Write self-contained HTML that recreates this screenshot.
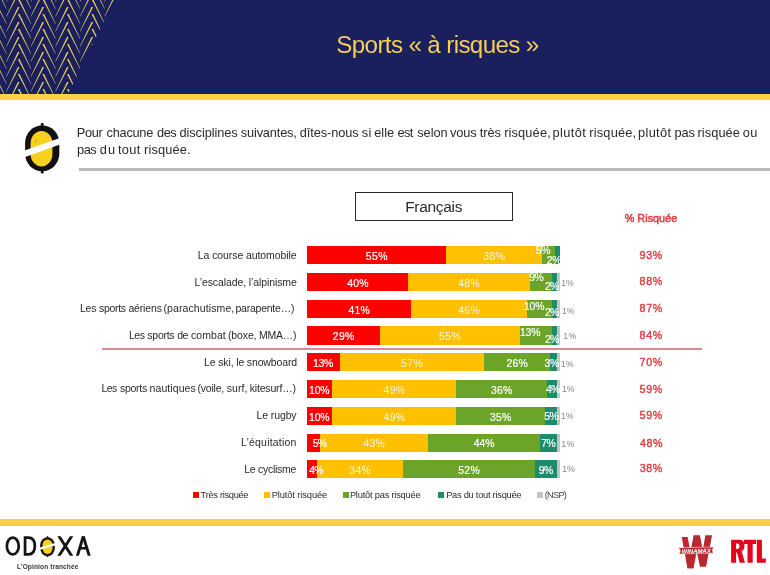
<!DOCTYPE html>
<html><head><meta charset="utf-8"><title>Sports à risques</title>
<style>
html,body{margin:0;padding:0;}
body{width:770px;height:575px;overflow:hidden;background:#fff;position:relative;font-family:"Liberation Sans",sans-serif;}
.abs{position:absolute;}
.t{position:absolute;white-space:nowrap;line-height:normal;}
#tx{position:absolute;left:0;top:0;width:770px;height:575px;will-change:transform;}
#hdr{left:0;top:0;width:770px;height:94px;background:#1a1f5e;}
#ystripe{left:0;top:93.6px;width:770px;height:6.3px;background:#f6d345;}
#qline{left:78.7px;top:168.3px;width:692px;height:2.4px;background:#bbb;}
#box{left:354.6px;top:192px;width:158.4px;height:29.3px;border:1.3px solid #2a2a2a;box-sizing:border-box;}
.seg{position:absolute;height:18.2px;}
#rline{left:102.1px;top:348px;width:600.2px;height:2px;background:#da8a94;}
.sq{position:absolute;top:491.8px;width:6.2px;height:6px;}
#fstripe{left:0;top:519px;width:770px;height:6.7px;background:#f7d046;}
svg{position:absolute;left:0;top:0;overflow:visible;}
</style></head><body>
<div class="abs" id="hdr"></div>

<svg width="770" height="94" viewBox="0 0 770 94"><defs><clipPath id="hc"><polygon points="0,0 114.5,0 68,94 0,94"/></clipPath></defs><g clip-path="url(#hc)"><path d="M-6.70 -38.10L-5.00 -38.10L-17.93 -13.50L-18.38 -13.50ZM-6.70 -30.90L-5.00 -30.90L6.67 -6.30L6.22 -6.30ZM-6.70 -23.10L-5.00 -23.10L-17.93 1.50L-18.38 1.50ZM-6.70 -15.90L-5.00 -15.90L6.67 8.70L6.22 8.70ZM-6.70 -8.10L-5.00 -8.10L-17.93 16.50L-18.38 16.50ZM-6.70 -0.90L-5.00 -0.90L6.67 23.70L6.22 23.70ZM-6.70 6.90L-5.00 6.90L-17.93 31.50L-18.38 31.50ZM-6.70 14.10L-5.00 14.10L6.67 38.70L6.22 38.70ZM-6.70 21.90L-5.00 21.90L-17.93 46.50L-18.38 46.50ZM-6.70 29.10L-5.00 29.10L6.67 53.70L6.22 53.70ZM-6.70 36.90L-5.00 36.90L-17.93 61.50L-18.38 61.50ZM-6.70 44.10L-5.00 44.10L6.67 68.70L6.22 68.70ZM-6.70 51.90L-5.00 51.90L-17.93 76.50L-18.38 76.50ZM-6.70 59.10L-5.00 59.10L6.67 83.70L6.22 83.70ZM-6.70 66.90L-5.00 66.90L-17.93 91.50L-18.38 91.50ZM-6.70 74.10L-5.00 74.10L6.67 98.70L6.22 98.70ZM-6.70 81.90L-5.00 81.90L-17.93 106.50L-18.38 106.50ZM-6.70 89.10L-5.00 89.10L6.67 113.70L6.22 113.70ZM-6.70 96.90L-5.00 96.90L-17.93 121.50L-18.38 121.50ZM-6.70 104.10L-5.00 104.10L6.67 128.70L6.22 128.70ZM-6.70 111.90L-5.00 111.90L-17.93 136.50L-18.38 136.50ZM-6.70 119.10L-5.00 119.10L6.67 143.70L6.22 143.70ZM17.85 -38.10L19.55 -38.10L6.62 -13.50L6.17 -13.50ZM17.85 -30.90L19.55 -30.90L31.23 -6.30L30.77 -6.30ZM17.85 -23.10L19.55 -23.10L6.62 1.50L6.17 1.50ZM17.85 -15.90L19.55 -15.90L31.23 8.70L30.77 8.70ZM17.85 -8.10L19.55 -8.10L6.62 16.50L6.17 16.50ZM17.85 -0.90L19.55 -0.90L31.23 23.70L30.77 23.70ZM17.85 6.90L19.55 6.90L6.62 31.50L6.17 31.50ZM17.85 14.10L19.55 14.10L31.23 38.70L30.77 38.70ZM17.85 21.90L19.55 21.90L6.62 46.50L6.17 46.50ZM17.85 29.10L19.55 29.10L31.23 53.70L30.77 53.70ZM17.85 36.90L19.55 36.90L6.62 61.50L6.17 61.50ZM17.85 44.10L19.55 44.10L31.23 68.70L30.77 68.70ZM17.85 51.90L19.55 51.90L6.62 76.50L6.17 76.50ZM17.85 59.10L19.55 59.10L31.23 83.70L30.77 83.70ZM17.85 66.90L19.55 66.90L6.62 91.50L6.17 91.50ZM17.85 74.10L19.55 74.10L31.23 98.70L30.77 98.70ZM17.85 81.90L19.55 81.90L6.62 106.50L6.17 106.50ZM17.85 89.10L19.55 89.10L31.23 113.70L30.77 113.70ZM17.85 96.90L19.55 96.90L6.62 121.50L6.17 121.50ZM17.85 104.10L19.55 104.10L31.23 128.70L30.77 128.70ZM17.85 111.90L19.55 111.90L6.62 136.50L6.17 136.50ZM17.85 119.10L19.55 119.10L31.23 143.70L30.77 143.70ZM42.40 -38.10L44.10 -38.10L31.18 -13.50L30.72 -13.50ZM42.40 -30.90L44.10 -30.90L55.77 -6.30L55.32 -6.30ZM42.40 -23.10L44.10 -23.10L31.18 1.50L30.72 1.50ZM42.40 -15.90L44.10 -15.90L55.77 8.70L55.32 8.70ZM42.40 -8.10L44.10 -8.10L31.18 16.50L30.72 16.50ZM42.40 -0.90L44.10 -0.90L55.77 23.70L55.32 23.70ZM42.40 6.90L44.10 6.90L31.18 31.50L30.72 31.50ZM42.40 14.10L44.10 14.10L55.77 38.70L55.32 38.70ZM42.40 21.90L44.10 21.90L31.18 46.50L30.72 46.50ZM42.40 29.10L44.10 29.10L55.77 53.70L55.32 53.70ZM42.40 36.90L44.10 36.90L31.18 61.50L30.72 61.50ZM42.40 44.10L44.10 44.10L55.77 68.70L55.32 68.70ZM42.40 51.90L44.10 51.90L31.18 76.50L30.72 76.50ZM42.40 59.10L44.10 59.10L55.77 83.70L55.32 83.70ZM42.40 66.90L44.10 66.90L31.18 91.50L30.72 91.50ZM42.40 74.10L44.10 74.10L55.77 98.70L55.32 98.70ZM42.40 81.90L44.10 81.90L31.18 106.50L30.72 106.50ZM42.40 89.10L44.10 89.10L55.77 113.70L55.32 113.70ZM42.40 96.90L44.10 96.90L31.18 121.50L30.72 121.50ZM42.40 104.10L44.10 104.10L55.77 128.70L55.32 128.70ZM42.40 111.90L44.10 111.90L31.18 136.50L30.72 136.50ZM42.40 119.10L44.10 119.10L55.77 143.70L55.32 143.70ZM66.95 -38.10L68.65 -38.10L55.73 -13.50L55.27 -13.50ZM66.95 -30.90L68.65 -30.90L80.32 -6.30L79.88 -6.30ZM66.95 -23.10L68.65 -23.10L55.73 1.50L55.27 1.50ZM66.95 -15.90L68.65 -15.90L80.32 8.70L79.88 8.70ZM66.95 -8.10L68.65 -8.10L55.73 16.50L55.27 16.50ZM66.95 -0.90L68.65 -0.90L80.32 23.70L79.88 23.70ZM66.95 6.90L68.65 6.90L55.73 31.50L55.27 31.50ZM66.95 14.10L68.65 14.10L80.32 38.70L79.88 38.70ZM66.95 21.90L68.65 21.90L55.73 46.50L55.27 46.50ZM66.95 29.10L68.65 29.10L80.32 53.70L79.88 53.70ZM66.95 36.90L68.65 36.90L55.73 61.50L55.27 61.50ZM66.95 44.10L68.65 44.10L80.32 68.70L79.88 68.70ZM66.95 51.90L68.65 51.90L55.73 76.50L55.27 76.50ZM66.95 59.10L68.65 59.10L80.32 83.70L79.88 83.70ZM66.95 66.90L68.65 66.90L55.73 91.50L55.27 91.50ZM66.95 74.10L68.65 74.10L80.32 98.70L79.88 98.70ZM66.95 81.90L68.65 81.90L55.73 106.50L55.27 106.50ZM66.95 89.10L68.65 89.10L80.32 113.70L79.88 113.70ZM66.95 96.90L68.65 96.90L55.73 121.50L55.27 121.50ZM66.95 104.10L68.65 104.10L80.32 128.70L79.88 128.70ZM66.95 111.90L68.65 111.90L55.73 136.50L55.27 136.50ZM66.95 119.10L68.65 119.10L80.32 143.70L79.88 143.70ZM91.50 -38.10L93.20 -38.10L80.28 -13.50L79.83 -13.50ZM91.50 -30.90L93.20 -30.90L104.88 -6.30L104.43 -6.30ZM91.50 -23.10L93.20 -23.10L80.28 1.50L79.83 1.50ZM91.50 -15.90L93.20 -15.90L104.88 8.70L104.43 8.70ZM91.50 -8.10L93.20 -8.10L80.28 16.50L79.83 16.50ZM91.50 -0.90L93.20 -0.90L104.88 23.70L104.43 23.70ZM91.50 6.90L93.20 6.90L80.28 31.50L79.83 31.50ZM91.50 14.10L93.20 14.10L104.88 38.70L104.43 38.70ZM91.50 21.90L93.20 21.90L80.28 46.50L79.83 46.50ZM91.50 29.10L93.20 29.10L104.88 53.70L104.43 53.70ZM91.50 36.90L93.20 36.90L80.28 61.50L79.83 61.50ZM91.50 44.10L93.20 44.10L104.88 68.70L104.43 68.70ZM91.50 51.90L93.20 51.90L80.28 76.50L79.83 76.50ZM91.50 59.10L93.20 59.10L104.88 83.70L104.43 83.70ZM91.50 66.90L93.20 66.90L80.28 91.50L79.83 91.50ZM91.50 74.10L93.20 74.10L104.88 98.70L104.43 98.70ZM91.50 81.90L93.20 81.90L80.28 106.50L79.83 106.50ZM91.50 89.10L93.20 89.10L104.88 113.70L104.43 113.70ZM91.50 96.90L93.20 96.90L80.28 121.50L79.83 121.50ZM91.50 104.10L93.20 104.10L104.88 128.70L104.43 128.70ZM91.50 111.90L93.20 111.90L80.28 136.50L79.83 136.50ZM91.50 119.10L93.20 119.10L104.88 143.70L104.43 143.70ZM116.05 -38.10L117.75 -38.10L104.83 -13.50L104.38 -13.50ZM116.05 -30.90L117.75 -30.90L129.43 -6.30L128.98 -6.30ZM116.05 -23.10L117.75 -23.10L104.83 1.50L104.38 1.50ZM116.05 -15.90L117.75 -15.90L129.43 8.70L128.98 8.70ZM116.05 -8.10L117.75 -8.10L104.83 16.50L104.38 16.50ZM116.05 -0.90L117.75 -0.90L129.43 23.70L128.98 23.70ZM116.05 6.90L117.75 6.90L104.83 31.50L104.38 31.50ZM116.05 14.10L117.75 14.10L129.43 38.70L128.98 38.70ZM116.05 21.90L117.75 21.90L104.83 46.50L104.38 46.50ZM116.05 29.10L117.75 29.10L129.43 53.70L128.98 53.70ZM116.05 36.90L117.75 36.90L104.83 61.50L104.38 61.50ZM116.05 44.10L117.75 44.10L129.43 68.70L128.98 68.70ZM116.05 51.90L117.75 51.90L104.83 76.50L104.38 76.50ZM116.05 59.10L117.75 59.10L129.43 83.70L128.98 83.70ZM116.05 66.90L117.75 66.90L104.83 91.50L104.38 91.50ZM116.05 74.10L117.75 74.10L129.43 98.70L128.98 98.70ZM116.05 81.90L117.75 81.90L104.83 106.50L104.38 106.50ZM116.05 89.10L117.75 89.10L129.43 113.70L128.98 113.70ZM116.05 96.90L117.75 96.90L104.83 121.50L104.38 121.50ZM116.05 104.10L117.75 104.10L129.43 128.70L128.98 128.70ZM116.05 111.90L117.75 111.90L104.83 136.50L104.38 136.50ZM116.05 119.10L117.75 119.10L129.43 143.70L128.98 143.70ZM140.60 -38.10L142.30 -38.10L129.37 -13.50L128.92 -13.50ZM140.60 -30.90L142.30 -30.90L153.97 -6.30L153.53 -6.30ZM140.60 -23.10L142.30 -23.10L129.37 1.50L128.92 1.50ZM140.60 -15.90L142.30 -15.90L153.97 8.70L153.53 8.70ZM140.60 -8.10L142.30 -8.10L129.37 16.50L128.92 16.50ZM140.60 -0.90L142.30 -0.90L153.97 23.70L153.53 23.70ZM140.60 6.90L142.30 6.90L129.37 31.50L128.92 31.50ZM140.60 14.10L142.30 14.10L153.97 38.70L153.53 38.70ZM140.60 21.90L142.30 21.90L129.37 46.50L128.92 46.50ZM140.60 29.10L142.30 29.10L153.97 53.70L153.53 53.70ZM140.60 36.90L142.30 36.90L129.37 61.50L128.92 61.50ZM140.60 44.10L142.30 44.10L153.97 68.70L153.53 68.70ZM140.60 51.90L142.30 51.90L129.37 76.50L128.92 76.50ZM140.60 59.10L142.30 59.10L153.97 83.70L153.53 83.70ZM140.60 66.90L142.30 66.90L129.37 91.50L128.92 91.50ZM140.60 74.10L142.30 74.10L153.97 98.70L153.53 98.70ZM140.60 81.90L142.30 81.90L129.37 106.50L128.92 106.50ZM140.60 89.10L142.30 89.10L153.97 113.70L153.53 113.70ZM140.60 96.90L142.30 96.90L129.37 121.50L128.92 121.50ZM140.60 104.10L142.30 104.10L153.97 128.70L153.53 128.70ZM140.60 111.90L142.30 111.90L129.37 136.50L128.92 136.50ZM140.60 119.10L142.30 119.10L153.97 143.70L153.53 143.70ZM165.15 -38.10L166.85 -38.10L153.92 -13.50L153.47 -13.50ZM165.15 -30.90L166.85 -30.90L178.53 -6.30L178.08 -6.30ZM165.15 -23.10L166.85 -23.10L153.92 1.50L153.47 1.50ZM165.15 -15.90L166.85 -15.90L178.53 8.70L178.08 8.70ZM165.15 -8.10L166.85 -8.10L153.92 16.50L153.47 16.50ZM165.15 -0.90L166.85 -0.90L178.53 23.70L178.08 23.70ZM165.15 6.90L166.85 6.90L153.92 31.50L153.47 31.50ZM165.15 14.10L166.85 14.10L178.53 38.70L178.08 38.70ZM165.15 21.90L166.85 21.90L153.92 46.50L153.47 46.50ZM165.15 29.10L166.85 29.10L178.53 53.70L178.08 53.70ZM165.15 36.90L166.85 36.90L153.92 61.50L153.47 61.50ZM165.15 44.10L166.85 44.10L178.53 68.70L178.08 68.70ZM165.15 51.90L166.85 51.90L153.92 76.50L153.47 76.50ZM165.15 59.10L166.85 59.10L178.53 83.70L178.08 83.70ZM165.15 66.90L166.85 66.90L153.92 91.50L153.47 91.50ZM165.15 74.10L166.85 74.10L178.53 98.70L178.08 98.70ZM165.15 81.90L166.85 81.90L153.92 106.50L153.47 106.50ZM165.15 89.10L166.85 89.10L178.53 113.70L178.08 113.70ZM165.15 96.90L166.85 96.90L153.92 121.50L153.47 121.50ZM165.15 104.10L166.85 104.10L178.53 128.70L178.08 128.70ZM165.15 111.90L166.85 111.90L153.92 136.50L153.47 136.50ZM165.15 119.10L166.85 119.10L178.53 143.70L178.08 143.70Z" fill="#eccb5c"/></g></svg>
<div class="abs" id="ystripe"></div>
<div class="abs" id="qline"></div>
<div class="abs" id="box"></div>
<div class="abs" id="rline"></div>

<div class="seg" style="left:307.00px;top:245.9px;width:139.55px;background:#ff0000"></div>
<div class="seg" style="left:446.15px;top:245.9px;width:96.54px;background:#ffc000"></div>
<div class="seg" style="left:542.29px;top:245.9px;width:13.05px;background:#6ba428"></div>
<div class="seg" style="left:554.94px;top:245.9px;width:5.06px;background:#208a6c"></div>
<div class="seg" style="left:307.00px;top:273.0px;width:101.60px;background:#ff0000"></div>
<div class="seg" style="left:408.20px;top:273.0px;width:121.84px;background:#ffc000"></div>
<div class="seg" style="left:529.64px;top:273.0px;width:23.17px;background:#6ba428"></div>
<div class="seg" style="left:552.41px;top:273.0px;width:5.46px;background:#208a6c"></div>
<div class="seg" style="left:557.47px;top:273.0px;width:2.53px;background:#c4c4c4"></div>
<div class="seg" style="left:307.00px;top:300.1px;width:104.13px;background:#ff0000"></div>
<div class="seg" style="left:410.73px;top:300.1px;width:116.78px;background:#ffc000"></div>
<div class="seg" style="left:527.11px;top:300.1px;width:25.70px;background:#6ba428"></div>
<div class="seg" style="left:552.41px;top:300.1px;width:5.46px;background:#208a6c"></div>
<div class="seg" style="left:557.47px;top:300.1px;width:2.53px;background:#c4c4c4"></div>
<div class="seg" style="left:307.00px;top:326.4px;width:73.77px;background:#ff0000"></div>
<div class="seg" style="left:380.37px;top:326.4px;width:139.55px;background:#ffc000"></div>
<div class="seg" style="left:519.52px;top:326.4px;width:33.29px;background:#6ba428"></div>
<div class="seg" style="left:552.41px;top:326.4px;width:5.46px;background:#208a6c"></div>
<div class="seg" style="left:557.47px;top:326.4px;width:2.53px;background:#c4c4c4"></div>
<div class="seg" style="left:307.00px;top:353.3px;width:33.29px;background:#ff0000"></div>
<div class="seg" style="left:339.89px;top:353.3px;width:144.61px;background:#ffc000"></div>
<div class="seg" style="left:484.10px;top:353.3px;width:66.18px;background:#6ba428"></div>
<div class="seg" style="left:549.88px;top:353.3px;width:7.99px;background:#208a6c"></div>
<div class="seg" style="left:557.47px;top:353.3px;width:2.53px;background:#c4c4c4"></div>
<div class="seg" style="left:307.00px;top:380.1px;width:25.70px;background:#ff0000"></div>
<div class="seg" style="left:332.30px;top:380.1px;width:124.37px;background:#ffc000"></div>
<div class="seg" style="left:456.27px;top:380.1px;width:91.48px;background:#6ba428"></div>
<div class="seg" style="left:547.35px;top:380.1px;width:10.52px;background:#208a6c"></div>
<div class="seg" style="left:557.47px;top:380.1px;width:2.53px;background:#c4c4c4"></div>
<div class="seg" style="left:307.00px;top:406.8px;width:25.70px;background:#ff0000"></div>
<div class="seg" style="left:332.30px;top:406.8px;width:124.37px;background:#ffc000"></div>
<div class="seg" style="left:456.27px;top:406.8px;width:88.95px;background:#6ba428"></div>
<div class="seg" style="left:544.82px;top:406.8px;width:13.05px;background:#208a6c"></div>
<div class="seg" style="left:557.47px;top:406.8px;width:2.53px;background:#c4c4c4"></div>
<div class="seg" style="left:307.00px;top:433.5px;width:13.05px;background:#ff0000"></div>
<div class="seg" style="left:319.65px;top:433.5px;width:109.19px;background:#ffc000"></div>
<div class="seg" style="left:428.44px;top:433.5px;width:111.72px;background:#6ba428"></div>
<div class="seg" style="left:539.76px;top:433.5px;width:18.11px;background:#208a6c"></div>
<div class="seg" style="left:557.47px;top:433.5px;width:2.53px;background:#c4c4c4"></div>
<div class="seg" style="left:307.00px;top:459.9px;width:10.52px;background:#ff0000"></div>
<div class="seg" style="left:317.12px;top:459.9px;width:86.42px;background:#ffc000"></div>
<div class="seg" style="left:403.14px;top:459.9px;width:131.96px;background:#6ba428"></div>
<div class="seg" style="left:534.70px;top:459.9px;width:23.17px;background:#208a6c"></div>
<div class="seg" style="left:557.47px;top:459.9px;width:2.53px;background:#c4c4c4"></div>
<div class="sq" style="left:192.5px;background:#ff0000"></div>
<div class="sq" style="left:264.0px;background:#ffc000"></div>
<div class="sq" style="left:342.5px;background:#6ba428"></div>
<div class="sq" style="left:438.1px;background:#208a6c"></div>
<div class="sq" style="left:536.8px;background:#c4c4c4"></div>
<div class="abs" id="fstripe"></div>
<div id="tx">
<div class="t" style="left:336.29px;top:31.40px;font-size:24.2px;letter-spacing:-0.636px;color:#f3cf58;">Sports « à risques »</div>
<div class="t" style="left:76.80px;top:125.20px;font-size:12.8px;letter-spacing:-0.394px;color:#2a2a2a;">Pour</div>
<div class="t" style="left:106.62px;top:125.20px;font-size:12.8px;letter-spacing:-0.280px;color:#2a2a2a;">chacune</div>
<div class="t" style="left:157.00px;top:125.20px;font-size:12.8px;letter-spacing:-0.478px;color:#2a2a2a;">des</div>
<div class="t" style="left:179.45px;top:125.20px;font-size:12.8px;letter-spacing:-0.074px;color:#2a2a2a;">disciplines</div>
<div class="t" style="left:240.78px;top:125.20px;font-size:12.8px;letter-spacing:-0.164px;color:#2a2a2a;">suivantes,</div>
<div class="t" style="left:299.72px;top:125.20px;font-size:12.8px;letter-spacing:-0.098px;color:#2a2a2a;">dîtes-nous</div>
<div class="t" style="left:361.72px;top:125.20px;font-size:12.8px;letter-spacing:0.381px;color:#2a2a2a;">si</div>
<div class="t" style="left:374.18px;top:125.20px;font-size:12.8px;letter-spacing:0.014px;color:#2a2a2a;">elle</div>
<div class="t" style="left:397.62px;top:125.20px;font-size:12.8px;letter-spacing:-0.639px;color:#2a2a2a;">est</div>
<div class="t" style="left:417.18px;top:125.20px;font-size:12.8px;letter-spacing:-0.020px;color:#2a2a2a;">selon</div>
<div class="t" style="left:450.05px;top:125.20px;font-size:12.8px;letter-spacing:-0.108px;color:#2a2a2a;">vous</div>
<div class="t" style="left:479.80px;top:125.20px;font-size:12.8px;letter-spacing:-0.046px;color:#2a2a2a;">très</div>
<div class="t" style="left:504.19px;top:125.20px;font-size:12.8px;letter-spacing:0.140px;color:#2a2a2a;">risquée,</div>
<div class="t" style="left:552.55px;top:125.20px;font-size:12.8px;letter-spacing:0.405px;color:#2a2a2a;">plutôt</div>
<div class="t" style="left:589.19px;top:125.20px;font-size:12.8px;letter-spacing:0.205px;color:#2a2a2a;">risquée,</div>
<div class="t" style="left:638.08px;top:125.20px;font-size:12.8px;letter-spacing:0.320px;color:#2a2a2a;">plutôt</div>
<div class="t" style="left:674.57px;top:125.20px;font-size:12.8px;letter-spacing:-0.132px;color:#2a2a2a;">pas</div>
<div class="t" style="left:697.47px;top:125.20px;font-size:12.8px;letter-spacing:0.077px;color:#2a2a2a;">risquée</div>
<div class="t" style="left:742.68px;top:125.20px;font-size:12.8px;letter-spacing:0.392px;color:#2a2a2a;">ou</div>
<div class="t" style="left:77.08px;top:142.30px;font-size:12.8px;letter-spacing:-0.473px;color:#2a2a2a;">pas</div>
<div class="t" style="left:99.72px;top:142.30px;font-size:12.8px;letter-spacing:1.151px;color:#2a2a2a;">du</div>
<div class="t" style="left:117.93px;top:142.30px;font-size:12.8px;letter-spacing:0.334px;color:#2a2a2a;">tout</div>
<div class="t" style="left:143.99px;top:142.30px;font-size:12.8px;letter-spacing:0.145px;color:#2a2a2a;">risquée.</div>
<div class="t" style="left:405.14px;top:197.90px;font-size:15.5px;letter-spacing:-0.295px;color:#2a2a2a;">Français</div>
<div class="t" style="left:624.70px;top:212.20px;font-size:10.8px;letter-spacing:0.039px;color:#e23a42;-webkit-text-stroke:0.5px #e23a42;">% Risquée</div>
<div class="t" style="left:197.79px;top:249.00px;font-size:10.5px;letter-spacing:-0.083px;color:#2a2a2a;">La course automobile</div>
<div class="t" style="left:194.54px;top:275.70px;font-size:10.5px;letter-spacing:-0.099px;color:#2a2a2a;">L’escalade, l’alpinisme</div>
<div class="t" style="left:80.05px;top:302.10px;font-size:10.5px;letter-spacing:-0.275px;color:#2a2a2a;">Les</div>
<div class="t" style="left:98.97px;top:302.10px;font-size:10.5px;letter-spacing:-0.297px;color:#2a2a2a;">sports</div>
<div class="t" style="left:128.41px;top:302.10px;font-size:10.5px;letter-spacing:-0.158px;color:#2a2a2a;">aériens</div>
<div class="t" style="left:163.41px;top:302.10px;font-size:10.5px;letter-spacing:0.107px;color:#2a2a2a;">(parachutisme,</div>
<div class="t" style="left:235.41px;top:302.10px;font-size:10.5px;letter-spacing:-0.227px;color:#2a2a2a;">parapente…)</div>
<div class="t" style="left:129.04px;top:328.60px;font-size:10.5px;letter-spacing:-0.521px;color:#2a2a2a;">Les</div>
<div class="t" style="left:147.34px;top:328.60px;font-size:10.5px;letter-spacing:-0.268px;color:#2a2a2a;">sports</div>
<div class="t" style="left:177.28px;top:328.60px;font-size:10.5px;letter-spacing:-0.579px;color:#2a2a2a;">de</div>
<div class="t" style="left:190.89px;top:328.60px;font-size:10.5px;letter-spacing:0.092px;color:#2a2a2a;">combat</div>
<div class="t" style="left:227.96px;top:328.60px;font-size:10.5px;letter-spacing:-0.121px;color:#2a2a2a;">(boxe,</div>
<div class="t" style="left:259.04px;top:328.60px;font-size:10.5px;letter-spacing:-0.270px;color:#2a2a2a;">MMA…)</div>
<div class="t" style="left:204.05px;top:355.70px;font-size:10.5px;letter-spacing:-0.140px;color:#2a2a2a;">Le ski, le snowboard</div>
<div class="t" style="left:101.52px;top:382.30px;font-size:10.5px;letter-spacing:-0.609px;color:#2a2a2a;">Les</div>
<div class="t" style="left:119.91px;top:382.30px;font-size:10.5px;letter-spacing:-0.270px;color:#2a2a2a;">sports</div>
<div class="t" style="left:149.55px;top:382.30px;font-size:10.5px;letter-spacing:0.083px;color:#2a2a2a;">nautiques</div>
<div class="t" style="left:197.41px;top:382.30px;font-size:10.5px;letter-spacing:-0.203px;color:#2a2a2a;">(voile,</div>
<div class="t" style="left:226.65px;top:382.30px;font-size:10.5px;letter-spacing:0.090px;color:#2a2a2a;">surf,</div>
<div class="t" style="left:249.65px;top:382.30px;font-size:10.5px;letter-spacing:-0.158px;color:#2a2a2a;">kitesurf…)</div>
<div class="t" style="left:256.52px;top:409.40px;font-size:10.5px;letter-spacing:-0.108px;color:#2a2a2a;">Le rugby</div>
<div class="t" style="left:241.01px;top:435.70px;font-size:10.5px;letter-spacing:0.203px;color:#2a2a2a;">L’équitation</div>
<div class="t" style="left:244.24px;top:462.90px;font-size:10.5px;letter-spacing:-0.280px;color:#2a2a2a;">Le cyclisme</div>
<div class="t" style="left:365.81px;top:250.74px;font-size:10.4px;letter-spacing:0.388px;color:#fff;-webkit-text-stroke:0.2px #fff;">55%</div>
<div class="t" style="left:483.19px;top:250.74px;font-size:10.4px;letter-spacing:0.489px;color:#fff6dc;">38%</div>
<div class="t" style="left:535.76px;top:244.54px;font-size:10.4px;letter-spacing:-0.364px;color:#fff;-webkit-text-stroke:0.2px #fff;">5%</div>
<div class="t" style="left:546.82px;top:254.74px;font-size:10.4px;letter-spacing:-0.420px;color:#fff;-webkit-text-stroke:0.2px #fff;">2%</div>
<div class="t" style="left:639.44px;top:249.20px;font-size:10.7px;letter-spacing:0.757px;color:#e23a42;-webkit-text-stroke:0.4px #e23a42;">93%</div>
<div class="t" style="left:347.24px;top:277.84px;font-size:10.4px;letter-spacing:0.173px;color:#fff;-webkit-text-stroke:0.2px #fff;">40%</div>
<div class="t" style="left:458.31px;top:277.84px;font-size:10.4px;letter-spacing:0.261px;color:#fff6dc;">48%</div>
<div class="t" style="left:529.17px;top:271.74px;font-size:10.4px;letter-spacing:-0.484px;color:#fff;-webkit-text-stroke:0.2px #fff;">9%</div>
<div class="t" style="left:544.94px;top:280.74px;font-size:10.4px;letter-spacing:-0.639px;color:#fff;-webkit-text-stroke:0.2px #fff;">2%</div>
<div class="t" style="left:561.13px;top:278.13px;font-size:8.7px;letter-spacing:0.159px;color:#858585;">1%</div>
<div class="t" style="left:639.55px;top:274.70px;font-size:10.7px;letter-spacing:0.704px;color:#e23a42;-webkit-text-stroke:0.4px #e23a42;">88%</div>
<div class="t" style="left:348.46px;top:304.94px;font-size:10.4px;letter-spacing:0.187px;color:#fff;-webkit-text-stroke:0.2px #fff;">41%</div>
<div class="t" style="left:458.31px;top:304.94px;font-size:10.4px;letter-spacing:0.261px;color:#fff6dc;">46%</div>
<div class="t" style="left:524.03px;top:301.34px;font-size:10.4px;letter-spacing:-0.203px;color:#fff;-webkit-text-stroke:0.2px #fff;">10%</div>
<div class="t" style="left:544.94px;top:306.74px;font-size:10.4px;letter-spacing:-0.639px;color:#fff;-webkit-text-stroke:0.2px #fff;">2%</div>
<div class="t" style="left:562.10px;top:305.73px;font-size:8.7px;letter-spacing:-0.109px;color:#858585;">1%</div>
<div class="t" style="left:639.55px;top:301.80px;font-size:10.7px;letter-spacing:0.704px;color:#e23a42;-webkit-text-stroke:0.4px #e23a42;">87%</div>
<div class="t" style="left:332.86px;top:331.24px;font-size:10.4px;letter-spacing:0.249px;color:#fff;-webkit-text-stroke:0.2px #fff;">29%</div>
<div class="t" style="left:438.97px;top:331.24px;font-size:10.4px;letter-spacing:0.469px;color:#fff6dc;">55%</div>
<div class="t" style="left:520.03px;top:327.24px;font-size:10.4px;letter-spacing:-0.203px;color:#fff;-webkit-text-stroke:0.2px #fff;">13%</div>
<div class="t" style="left:544.94px;top:334.14px;font-size:10.4px;letter-spacing:-0.639px;color:#fff;-webkit-text-stroke:0.2px #fff;">2%</div>
<div class="t" style="left:563.32px;top:331.33px;font-size:8.7px;letter-spacing:0.406px;color:#858585;">1%</div>
<div class="t" style="left:639.55px;top:329.00px;font-size:10.7px;letter-spacing:0.704px;color:#e23a42;-webkit-text-stroke:0.4px #e23a42;">84%</div>
<div class="t" style="left:313.04px;top:358.14px;font-size:10.4px;letter-spacing:-0.242px;color:#fff;-webkit-text-stroke:0.2px #fff;">13%</div>
<div class="t" style="left:401.01px;top:358.14px;font-size:10.4px;letter-spacing:0.454px;color:#fff6dc;">57%</div>
<div class="t" style="left:506.41px;top:358.14px;font-size:10.4px;letter-spacing:0.210px;color:#fff;-webkit-text-stroke:0.2px #fff;">26%</div>
<div class="t" style="left:544.54px;top:358.34px;font-size:10.4px;letter-spacing:-0.226px;color:#fff;-webkit-text-stroke:0.2px #fff;">3%</div>
<div class="t" style="left:560.96px;top:358.73px;font-size:8.7px;letter-spacing:0.011px;color:#858585;">1%</div>
<div class="t" style="left:639.46px;top:356.10px;font-size:10.7px;letter-spacing:0.746px;color:#e23a42;-webkit-text-stroke:0.4px #e23a42;">70%</div>
<div class="t" style="left:309.12px;top:384.94px;font-size:10.4px;letter-spacing:-0.166px;color:#fff;-webkit-text-stroke:0.2px #fff;">10%</div>
<div class="t" style="left:383.62px;top:384.94px;font-size:10.4px;letter-spacing:0.330px;color:#fff6dc;">49%</div>
<div class="t" style="left:491.09px;top:384.94px;font-size:10.4px;letter-spacing:0.231px;color:#fff;-webkit-text-stroke:0.2px #fff;">36%</div>
<div class="t" style="left:546.03px;top:384.24px;font-size:10.4px;letter-spacing:-0.784px;color:#fff;-webkit-text-stroke:0.2px #fff;">4%</div>
<div class="t" style="left:562.10px;top:384.13px;font-size:8.7px;letter-spacing:-0.109px;color:#858585;">1%</div>
<div class="t" style="left:639.53px;top:382.80px;font-size:10.7px;letter-spacing:0.715px;color:#e23a42;-webkit-text-stroke:0.4px #e23a42;">59%</div>
<div class="t" style="left:309.12px;top:411.64px;font-size:10.4px;letter-spacing:-0.166px;color:#fff;-webkit-text-stroke:0.2px #fff;">10%</div>
<div class="t" style="left:383.62px;top:411.64px;font-size:10.4px;letter-spacing:0.330px;color:#fff6dc;">49%</div>
<div class="t" style="left:489.96px;top:411.64px;font-size:10.4px;letter-spacing:0.252px;color:#fff;-webkit-text-stroke:0.2px #fff;">35%</div>
<div class="t" style="left:544.14px;top:411.24px;font-size:10.4px;letter-spacing:-0.455px;color:#fff;-webkit-text-stroke:0.2px #fff;">5%</div>
<div class="t" style="left:560.96px;top:411.13px;font-size:8.7px;letter-spacing:0.011px;color:#858585;">1%</div>
<div class="t" style="left:639.53px;top:409.10px;font-size:10.7px;letter-spacing:0.715px;color:#e23a42;-webkit-text-stroke:0.4px #e23a42;">59%</div>
<div class="t" style="left:312.63px;top:437.54px;font-size:10.4px;letter-spacing:-0.579px;color:#fff;-webkit-text-stroke:0.2px #fff;">5%</div>
<div class="t" style="left:363.45px;top:438.34px;font-size:10.4px;letter-spacing:0.256px;color:#fff6dc;">43%</div>
<div class="t" style="left:473.82px;top:438.34px;font-size:10.4px;letter-spacing:0.002px;color:#fff;-webkit-text-stroke:0.2px #fff;">44%</div>
<div class="t" style="left:541.19px;top:438.34px;font-size:10.4px;letter-spacing:-0.491px;color:#fff;-webkit-text-stroke:0.2px #fff;">7%</div>
<div class="t" style="left:561.32px;top:439.43px;font-size:8.7px;letter-spacing:0.406px;color:#858585;">1%</div>
<div class="t" style="left:639.99px;top:436.60px;font-size:10.7px;letter-spacing:0.506px;color:#e23a42;-webkit-text-stroke:0.4px #e23a42;">48%</div>
<div class="t" style="left:309.24px;top:464.54px;font-size:10.4px;letter-spacing:-0.798px;color:#fff;-webkit-text-stroke:0.2px #fff;">4%</div>
<div class="t" style="left:349.28px;top:464.74px;font-size:10.4px;letter-spacing:0.353px;color:#fff6dc;">34%</div>
<div class="t" style="left:458.24px;top:464.74px;font-size:10.4px;letter-spacing:0.325px;color:#fff;-webkit-text-stroke:0.2px #fff;">52%</div>
<div class="t" style="left:538.77px;top:464.74px;font-size:10.4px;letter-spacing:-0.505px;color:#fff;-webkit-text-stroke:0.2px #fff;">9%</div>
<div class="t" style="left:562.13px;top:464.13px;font-size:8.7px;letter-spacing:0.159px;color:#858585;">1%</div>
<div class="t" style="left:639.74px;top:462.10px;font-size:10.7px;letter-spacing:0.623px;color:#e23a42;-webkit-text-stroke:0.4px #e23a42;">38%</div>
<div class="t" style="left:200.62px;top:490.00px;font-size:9.3px;letter-spacing:-0.309px;color:#2a2a2a;">Très risquée</div>
<div class="t" style="left:271.66px;top:490.00px;font-size:9.3px;letter-spacing:-0.099px;color:#2a2a2a;">Plutôt risquée</div>
<div class="t" style="left:349.89px;top:490.00px;font-size:9.3px;letter-spacing:-0.216px;color:#2a2a2a;">Plutôt pas risquée</div>
<div class="t" style="left:446.15px;top:490.00px;font-size:9.3px;letter-spacing:-0.262px;color:#2a2a2a;">Pas du tout risquée</div>
<div class="t" style="left:544.70px;top:490.00px;font-size:9.3px;letter-spacing:-0.763px;color:#444;">(NSP)</div>
<div class="t" style="left:16.93px;top:562.60px;font-size:6.6px;letter-spacing:0.106px;color:#3a3a3a;font-weight:700;">L’Opinion tranchée</div>
</div>
<svg width="770" height="575" viewBox="0 0 770 575"><rect x="25.1" y="125.5" width="34.2" height="45.7" rx="17.1" ry="17.3" fill="#111"/><rect x="40.8" y="123.1" width="2.8" height="50.3" rx="0.9" fill="#111"/><rect x="30.6" y="130.9" width="21.8" height="35.6" rx="10.9" ry="12.6" fill="#f7d11e"/><circle cx="35.3" cy="139.6" r="0.45" fill="#8a6a00"/><circle cx="36.4" cy="140.8" r="0.45" fill="#8a6a00"/><circle cx="35.3" cy="142.0" r="0.45" fill="#8a6a00"/><polygon points="24.6,150.6 59.9,137.9 59.9,144.6 24.6,157.3" fill="#fff"/><ellipse cx="12.8" cy="546.05" rx="5.95" ry="8.4" fill="none" stroke="#141414" stroke-width="2.7"/><path d="M25.05 537.65H28.2C32.9 537.65 34.85 541.0 34.85 546.05C34.85 551.1 32.9 554.45 28.2 554.45H25.05Z" fill="none" stroke="#141414" stroke-width="2.7" stroke-linejoin="miter"/><rect x="40.20" y="537.30" width="14.60" height="18.80" rx="7.30" ry="7.52" fill="#141414"/><rect x="46.60" y="536.20" width="1.8" height="20.90" rx="0.6" fill="#141414"/><rect x="42.50" y="539.50" width="10.00" height="14.40" rx="5.00" ry="5.76" fill="#f7d11e"/><polygon points="40.00,547.43 55.00,543.08 55.00,545.38 40.00,549.73" fill="#fff"/><polygon points="57.3,536.3 60.7,536.3 73.3,555.8 69.9,555.8" fill="#141414"/><polygon points="69.9,536.3 73.3,536.3 60.7,555.8 57.3,555.8" fill="#141414"/><polygon points="81.8,536.3 84.8,536.3 78.9,555.8 75.9,555.8" fill="#141414"/><polygon points="81.8,536.3 84.8,536.3 90.7,555.8 87.7,555.8" fill="#141414"/><rect x="79.3" y="547.0" width="8.0" height="2.5" fill="#141414"/><polygon points="681.7,537.1 687.6,537.1 693.5,568.3 687.5,568.3" fill="#b8282f"/><polygon points="693.6,535.5 699.9,535.5 693.5,568.3 687.5,568.3" fill="#b8282f"/><polygon points="693.6,535.5 699.9,535.5 706.1,566.5 699.9,566.5" fill="#b8282f"/><polygon points="705.4,535.2 712.0,535.2 706.1,566.5 699.9,566.5" fill="#b8282f"/><path d="M678.6 547.7L713.6 547.0L712.4 550.1L713.2 553.2L679.2 554.0L680.4 550.9Z" fill="#b8282f" stroke="#fff" stroke-width="0.5"/><text x="696.2" y="553.0" font-family="Liberation Sans, sans-serif" font-weight="700" font-style="italic" font-size="5.6" fill="#fff" text-anchor="middle" textLength="29.5" lengthAdjust="spacingAndGlyphs" transform="rotate(-1.2 696 550)">WINAMAX</text><path fill-rule="evenodd" fill="#e2071f" d="M731.1 539.7H739.3Q744.5 539.7 744.5 545.6Q744.5 550 741.6 551.3L745.0 562.8H739.7L737.0 552.6H736.1V562.8H731.1ZM736.1 543.6V548.9H737.7Q739.5 548.9 739.5 546.2Q739.5 543.6 737.7 543.6Z"/><path fill="#e2071f" d="M744.0 539.7H756.0V544.0H752.7V562.8H747.5V544.0H744.0Z"/><path fill="#e2071f" d="M756.8 539.7H761.9V558.5H765.8V562.8H756.8Z"/></svg>
</body></html>
